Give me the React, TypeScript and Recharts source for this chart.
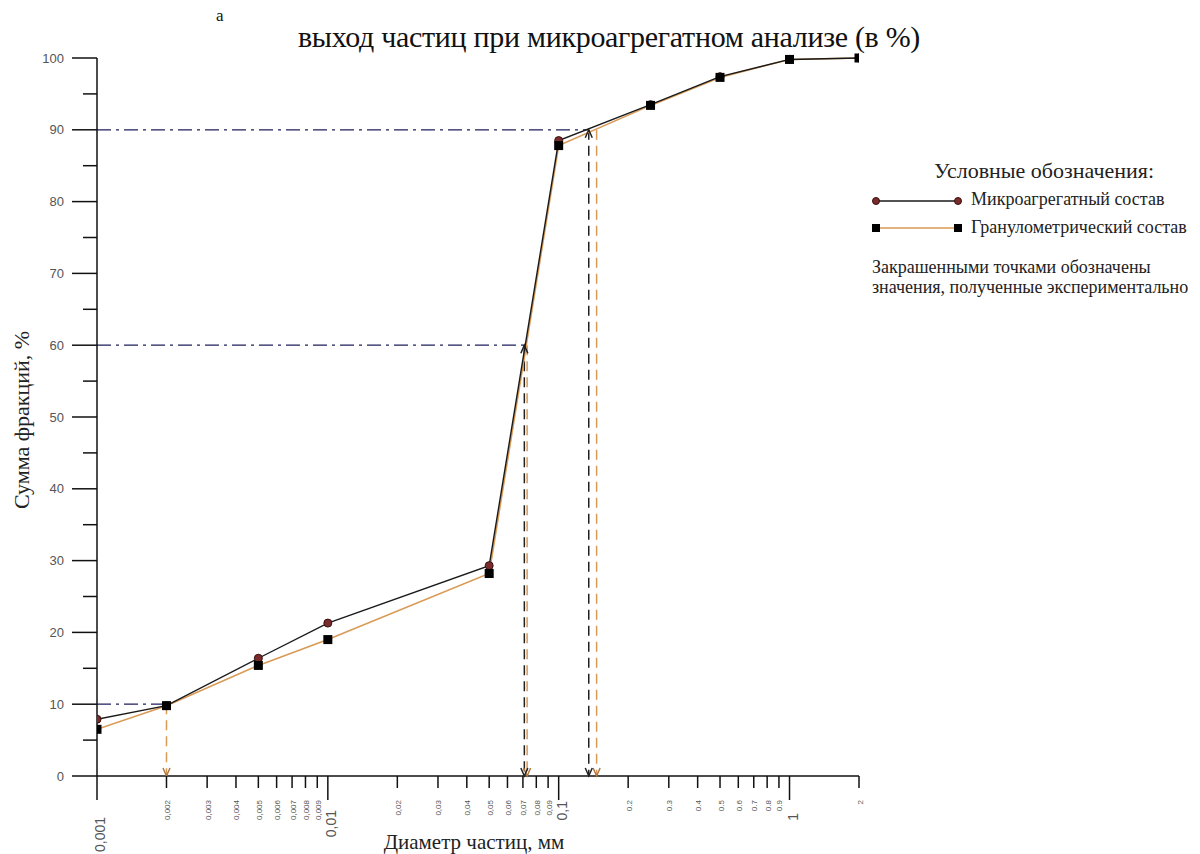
import React from 'react';
import { ComposedChart, Line, XAxis, YAxis, ReferenceLine, ReferenceDot } from 'recharts';

// Particle diameters (mm) where values were measured
const diameters = [0.001, 0.002, 0.005, 0.01, 0.05, 0.1, 0.25, 0.5, 1, 2];
// Cumulative sum of fractions, %
const microValues = [7.9, 9.8, 16.4, 21.3, 29.3, 88.5, 93.5, 97.4, 99.8, 100];
const granuloValues = [6.5, 9.8, 15.4, 19.0, 28.2, 87.8, 93.4, 97.3, 99.8, 100];

const xTickValues = [
  0.001, 0.002, 0.003, 0.004, 0.005, 0.006, 0.007, 0.008, 0.009,
  0.01, 0.02, 0.03, 0.04, 0.05, 0.06, 0.07, 0.08, 0.09,
  0.1, 0.2, 0.3, 0.4, 0.5, 0.6, 0.7, 0.8, 0.9, 1, 2,
];
const xTickLabels = [
  '0,001', '0,002', '0,003', '0,004', '0,005', '0,006', '0,007', '0,008', '0,009',
  '0,01', '0,02', '0,03', '0,04', '0,05', '0,06', '0,07', '0,08', '0,09',
  '0,1', '0.2', '0.3', '0.4', '0.5', '0.6', '0.7', '0.8', '0.9', '1', '2',
];
const majorXTicks = [0.001, 0.01, 0.1, 1];
const yTickValues = [0, 5, 10, 15, 20, 25, 30, 35, 40, 45, 50, 55, 60, 65, 70, 75, 80, 85, 90, 95, 100];

// Guide lines: level (%) and the diameter where it meets the curve
const guideLevels = [10, 60, 90];
const guideBlackX = [0.002, 0.071, 0.135];
const guideOrangeX = [0.002, 0.073, 0.146];

const title = 'выход частиц при микроагрегатном анализе (в %)';
const yTitle = 'Сумма фракций, %';
const xTitle = 'Диаметр частиц, мм';
const legendTitle = 'Условные обозначения:';
const seriesNames = ['Микроагрегатный состав', 'Гранулометрический состав'];
const noteLines = ['Закрашенными точками обозначены', 'значения, полученные экспериментально'];

const data = diameters.map((d, i) => ({ d, micro: microValues[i], granulo: granuloValues[i] }));

const SERIF = '"Liberation Serif", "DejaVu Serif", serif';
const SANS = '"Liberation Sans", Arial, sans-serif';
const majorLabelOffsets = [41, 34, 25, 37];

const XTick = (props: any) => {
  const { x, y, payload } = props;
  const v = payload.value;
  const idx = xTickValues.findIndex((t) => Math.abs(t - v) / t < 1e-6);
  const mIdx = majorXTicks.findIndex((t) => Math.abs(t - v) / t < 1e-6);
  const major = mIdx >= 0;
  const label = idx >= 0 ? xTickLabels[idx] : '';
  return (
    <g>
      <line x1={x} x2={x} y1={y} y2={y + (major ? 24 : 12)} stroke="#111" strokeWidth={1.5} />
      <text
        transform={`translate(${x + (major ? 3 : 1)},${y + (major ? majorLabelOffsets[mIdx] : 24)}) rotate(-90)`}
        textAnchor="end"
        dominantBaseline="central"
        fontSize={major ? 14 : 8}
        fill="#555"
        fontFamily={SANS}
      >
        {label}
      </text>
    </g>
  );
};

const YTick = (props: any) => {
  const { x, y, payload } = props;
  const major = payload.value % 10 === 0;
  return (
    <g>
      <line x1={x} x2={x - (major ? 25 : 14)} y1={y} y2={y} stroke="#111" strokeWidth={1.5} />
      {major && (
        <text x={x - 33} y={y} textAnchor="end" dominantBaseline="central" fontSize={13} fill="#555" fontFamily={SANS}>
          {payload.value}
        </text>
      )}
    </g>
  );
};

const circleDot = (props: any) => {
  const { cx, cy, index } = props;
  if (cx == null || cy == null) return <g key={index} />;
  return <circle key={index} cx={cx} cy={cy} r={4} fill="#7a2c2c" stroke="#3a1010" strokeWidth={1} />;
};

const squareDot = (props: any) => {
  const { cx, cy, index } = props;
  if (cx == null || cy == null) return <g key={index} />;
  return <rect key={index} x={cx - 4.5} y={cy - 4.5} width={9} height={9} fill="#000" />;
};

const arrow = (color: string, up: boolean) => (props: any) => {
  const { cx, cy } = props;
  const s = up ? 1 : -1;
  return (
    <path
      d={`M${cx - 3.5},${cy + s * 8} L${cx},${cy} L${cx + 3.5},${cy + s * 8}`}
      stroke={color}
      strokeWidth={1.5}
      fill="none"
    />
  );
};

const NAVY = '#1e1e5c';
const ORANGE = '#d99a55';

export default function App() {
  return (
    <div style={{ position: 'absolute', left: 0, top: 0, width: 1200, height: 854, background: '#fff' }}>
      <ComposedChart
        width={1200}
        height={854}
        data={data}
        margin={{ top: 58, right: 341, left: 0, bottom: 0 }}
      >
        <XAxis
          dataKey="d"
          type="number"
          scale="log"
          domain={[0.001, 2]}
          ticks={xTickValues}
          interval={0}
          tick={<XTick />}
          tickLine={false}
          tickSize={0}
          tickMargin={0}
          height={78}
          axisLine={{ stroke: '#111', strokeWidth: 1.5 }}
          allowDataOverflow
        />
        <YAxis
          type="number"
          domain={[0, 100]}
          ticks={yTickValues}
          interval={0}
          tick={<YTick />}
          tickLine={false}
          tickSize={0}
          tickMargin={0}
          width={97}
          axisLine={{ stroke: '#111', strokeWidth: 1.5 }}
        />
        {guideLevels.map((lv, i) => (
          <ReferenceLine
            key={'h' + i}
            segment={[{ x: 0.001, y: lv }, { x: guideBlackX[i], y: lv }]}
            stroke={NAVY}
            strokeWidth={1.3}
            strokeDasharray="14 5 3 5"
          />
        ))}
        {guideLevels.map((lv, i) => (
          <ReferenceLine
            key={'vo' + i}
            segment={[{ x: guideOrangeX[i], y: lv }, { x: guideOrangeX[i], y: 0 }]}
            stroke={ORANGE}
            strokeWidth={1.5}
            strokeDasharray="10 6"
          />
        ))}
        {guideLevels.slice(1).map((lv, i) => (
          <ReferenceLine
            key={'vb' + i}
            segment={[{ x: guideBlackX[i + 1], y: lv }, { x: guideBlackX[i + 1], y: 0 }]}
            stroke="#222"
            strokeWidth={1.5}
            strokeDasharray="10 6"
          />
        ))}
        {guideOrangeX.map((gx, i) => (
          <ReferenceDot key={'ao' + i} x={gx} y={0} r={3} shape={arrow('#b07840', false)} ifOverflow="visible" />
        ))}
        {guideLevels.slice(1).map((lv, i) => (
          <ReferenceDot key={'ab' + i} x={guideBlackX[i + 1]} y={0} r={3} shape={arrow('#222', false)} ifOverflow="visible" />
        ))}
        {guideLevels.slice(1).map((lv, i) => (
          <ReferenceDot key={'at' + i} x={guideBlackX[i + 1]} y={lv} r={3} shape={arrow('#222', true)} ifOverflow="visible" />
        ))}
        <Line
          dataKey="granulo"
          stroke={ORANGE}
          strokeWidth={1.6}
          dot={false}
          isAnimationActive={false}
          legendType="none"
        />
        <Line
          dataKey="micro"
          stroke="#1a1a1a"
          strokeWidth={1.4}
          dot={circleDot}
          activeDot={false}
          isAnimationActive={false}
        />
        <Line
          dataKey="granulo"
          stroke="none"
          dot={squareDot}
          activeDot={false}
          isAnimationActive={false}
          legendType="none"
        />
      </ComposedChart>

      {/* Title */}
      <div style={{ position: 'absolute', left: 216, top: 6, fontFamily: SERIF, fontSize: 17, color: '#111' }}>a</div>
      <div
        style={{
          position: 'absolute',
          left: 609,
          top: 37,
          transform: 'translate(-50%,-50%)',
          fontFamily: SERIF,
          fontSize: 30,
          color: '#111',
          whiteSpace: 'nowrap',
          letterSpacing: -0.3,
        }}
      >
        {title}
      </div>

      {/* Axis titles */}
      <div
        style={{
          position: 'absolute',
          left: 22,
          top: 420,
          transform: 'translate(-50%,-50%) rotate(-90deg)',
          fontFamily: SERIF,
          fontSize: 22,
          color: '#222',
          whiteSpace: 'nowrap',
        }}
      >
        {yTitle}
      </div>
      <div
        style={{
          position: 'absolute',
          left: 474,
          top: 842,
          transform: 'translate(-50%,-50%)',
          fontFamily: SERIF,
          fontSize: 21,
          color: '#222',
          whiteSpace: 'nowrap',
        }}
      >
        {xTitle}
      </div>

      {/* Legend */}
      <div
        style={{
          position: 'absolute',
          left: 1044,
          top: 171,
          transform: 'translate(-50%,-50%)',
          fontFamily: SERIF,
          fontSize: 22,
          color: '#222',
          whiteSpace: 'nowrap',
        }}
      >
        {legendTitle}
      </div>
      <svg style={{ position: 'absolute', left: 866, top: 190 }} width={100} height={50}>
        <line x1={10} x2={92} y1={11} y2={11} stroke="#1a1a1a" strokeWidth={1.4} />
        <circle cx={10} cy={11} r={3.5} fill="#7a2c2c" stroke="#3a1010" />
        <circle cx={92} cy={11} r={3.5} fill="#7a2c2c" stroke="#3a1010" />
        <line x1={10} x2={92} y1={38} y2={38} stroke={ORANGE} strokeWidth={1.6} />
        <rect x={6} y={34} width={8} height={8} fill="#000" />
        <rect x={88} y={34} width={8} height={8} fill="#000" />
      </svg>
      {seriesNames.map((n, i) => (
        <div
          key={n}
          style={{
            position: 'absolute',
            left: 971,
            top: 199 + i * 28,
            transform: 'translateY(-50%)',
            fontFamily: SERIF,
            fontSize: 18,
            color: '#222',
            whiteSpace: 'nowrap',
          }}
        >
          {n}
        </div>
      ))}
      {noteLines.map((n, i) => (
        <div
          key={n}
          style={{
            position: 'absolute',
            left: 872,
            top: 267 + i * 20,
            transform: 'translateY(-50%)',
            fontFamily: SERIF,
            fontSize: 18,
            color: '#222',
            whiteSpace: 'nowrap',
          }}
        >
          {n}
        </div>
      ))}
    </div>
  );
}
